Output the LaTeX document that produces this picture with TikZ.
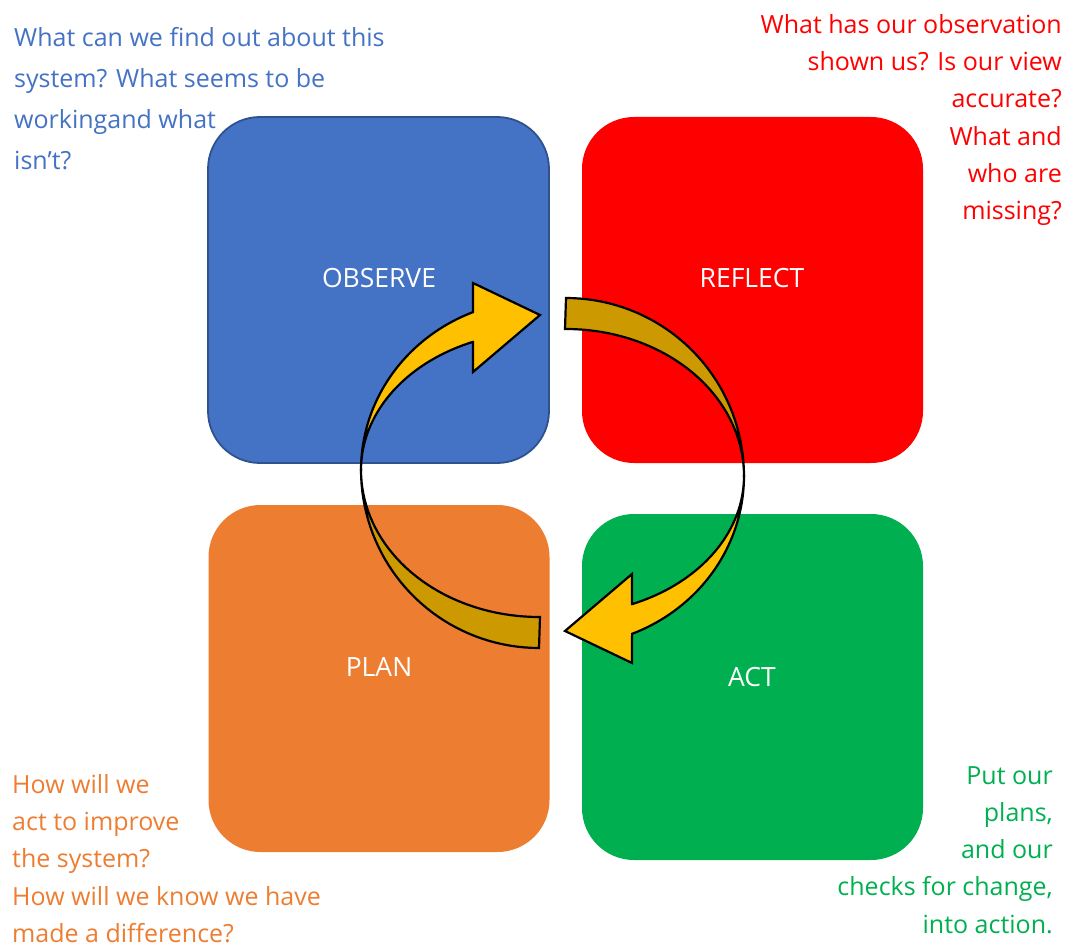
\documentclass[tikz,border=0pt]{standalone}
\usepackage{fontspec}
\setmainfont{Open Sans}
\definecolor{cblue}{HTML}{4472C4}
\definecolor{cblueedge}{HTML}{2F528F}
\definecolor{cred}{HTML}{FF0000}
\definecolor{corange}{HTML}{ED7D31}
\definecolor{cgreen}{HTML}{00B050}
\definecolor{cyellow}{HTML}{FFC000}
\definecolor{cgold}{HTML}{CC9900}
\tikzset{
  box/.style={minimum width=341pt, minimum height=346pt, rounded corners=52pt, inner sep=0pt},
  lbl/.style={text=white, font=\fontsize{26.5}{30}\selectfont, inner sep=0pt},
  qtext/.style={inner sep=0pt, font=\fontsize{25}{37.3}\selectfont},
  arrowfront/.style={fill=cyellow, draw=black, line width=2.2pt},
  arrowback/.style={fill=cgold, draw=black, line width=2.2pt},
}
\newcommand{\halfcycle}{%
  \draw[arrowback] plot[domain=180:90, samples=40] ({539+178*cos(\x)},{470+178*sin(\x)})
     -- (540,617) -- plot[domain=90:180, samples=40] ({539+178*cos(\x)},{470+147*sin(\x)}) -- cycle;
  \draw[arrowfront] plot[domain=180:248.2, samples=40] ({539+178*cos(\x)},{470+170*sin(\x)})
     -- (473,283) -- (540,315) -- (473,372) -- (473,342)
     -- plot[domain=248.2:180, samples=40] ({539+178*cos(\x)},{470+138*sin(\x)}) -- cycle;
}
\begin{document}
\begin{tikzpicture}[x=1pt,y=-1pt]
\useasboundingbox (0,0) rectangle (1069,944);
% boxes
\node[box, fill=cblue, draw=cblueedge, line width=1.8pt] (obs) at (378.5,290) {};
\node[box, fill=cred] (ref) at (752.5,290) {};
\node[box, fill=corange, minimum height=347pt] (plan) at (379,678.5) {};
\node[box, fill=cgreen] (act) at (752.5,687) {};
% labels
\node[lbl] (obsl) at (379,278) {OBSERVE};
\node[lbl] (refl) at (752,278) {REFLECT};
\node[lbl] (planl) at (379,667) {PLAN};
\node[lbl] (actl) at (752,677) {ACT};
% circular arrows
\halfcycle
\begin{scope}[rotate around={180:(552.5,473)}]
\halfcycle
\end{scope}
% questions
\node[qtext, text=cblue, anchor=north west, align=left, font=\fontsize{25}{41}\selectfont] (tq) at (14,27)
  {What can we find out about this\\system? What seems to be\\workingand what\\isn’t?};
\node[qtext, text=cred, anchor=north east, align=right] (rq) at (1062,14)
  {What has our observation\\shown us? Is our view\\accurate?\\What and\\who are\\missing?};
\node[qtext, text=corange, anchor=north west, align=left] (pq) at (12,774)
  {How will we\\act to improve\\the system?\\How will we know we have\\made a difference?};
\node[qtext, text=cgreen, anchor=north east, align=right] (aq) at (1053,766)
  {Put our\\plans,\\and our\\checks for change,\\into action.};
\end{tikzpicture}
\end{document}
